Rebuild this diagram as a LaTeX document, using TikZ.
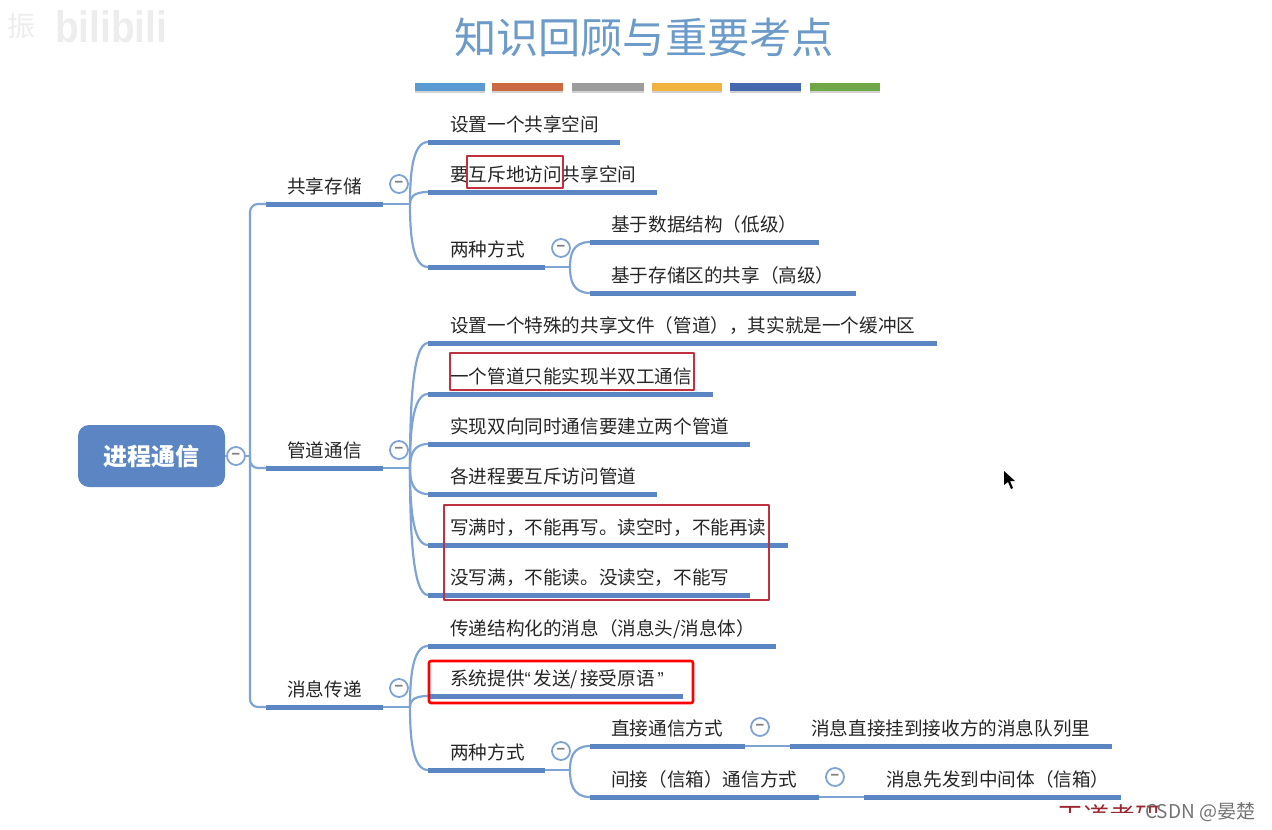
\documentclass[tikz,border=0pt]{standalone}
\usepackage{fontspec}
\setmainfont{Noto Sans CJK SC}
\newfontfamily\latinfont{Liberation Sans}
\usetikzlibrary{calc}
\definecolor{barblue}{HTML}{5B86C3}
\definecolor{linkblue}{HTML}{7FA3D3}
\definecolor{titleblue}{HTML}{6C9BC9}
\definecolor{boxred}{HTML}{C0303F}
\tikzset{
	topic/.style={anchor=base west, inner sep=0pt, font=\fontsize{18.6}{18.6}\selectfont, text=black!85},
	bar/.style={barblue, line width=5pt},
	link/.style={linkblue, line width=2.2pt},
	fold/.style={circle, draw=linkblue, fill=white, line width=1.8pt, minimum size=18pt, inner sep=0pt, font=\fontsize{14}{14}\selectfont\bfseries, text=gray},
	redbox/.style={boxred, line width=1.8pt}
}
\begin{document}
\begin{tikzpicture}[x=1pt, y=-1pt, line join=round, line cap=butt]
	\useasboundingbox (0,0) rectangle (1272,830);
	\clip (0,0) rectangle (1272,830);
	% #1 ten, #2 #3 dau cuoi gach, #4 y gach, #5 x chu, #6 chu
	\def\topicbar#1#2#3#4#5#6{
		\coordinate (#1L) at (#2,#4);
		\coordinate (#1R) at (#3,#4);
		\draw[bar] (#1L)--(#1R);
		\node[topic] (#1T) at (#5,#4-11) {#6};
	}
	% tieu de
	\node[font=\fontsize{42.2}{42.2}\selectfont, text=titleblue, inner sep=0pt] (title) at (644,38) {知识回顾与重要考点};
	\foreach \a/\b/\c in {415/485/5B9BD5,492/563/CB6A42,572/644/9C9C9C,652/722/F0B33F,730/801/4568AE,810/880/70A848}{
		\definecolor{stripe}{HTML}{\c}
		\fill[black!18] (\a,88) rectangle (\b,93);
		\fill[stripe] (\a,83) rectangle (\b,90.5);
	}
	% goc
	\node[fill=barblue, rounded corners=11pt, minimum width=147pt, minimum height=62pt, inner sep=0pt, text=white, font=\fontsize{24}{24}\selectfont\bfseries] (root) at (151.5,456) {\raisebox{-2pt}{进程通信}};
	% cap 1
	\topicbar{share}{266}{383}{204}{287}{共享存储}
	\topicbar{pipe}{266}{383}{468}{287}{管道通信}
	\topicbar{msg}{266}{383}{707}{287}{消息传递}
	% cap 2
	\topicbar{sa}{428}{620}{142}{450}{设置一个共享空间}
	\topicbar{sb}{428}{657}{192}{450}{要互斥地访问共享空间}
	\topicbar{sc}{428}{545}{267}{450}{两种方式}
	\topicbar{sd}{590}{819}{242}{611}{基于数据结构（低级）}
	\topicbar{se}{590}{856}{293}{611}{基于存储区的共享（高级）}
	\topicbar{pa}{428}{937}{343}{450}{设置一个特殊的共享文件（管道），其实就是一个缓冲区}
	\topicbar{pb}{428}{713}{394}{450}{一个管道只能实现半双工通信}
	\topicbar{pc}{428}{750}{444}{450}{实现双向同时通信要建立两个管道}
	\topicbar{pd}{428}{657}{494}{450}{各进程要互斥访问管道}
	\topicbar{pe}{428}{788}{545}{450}{写满时，不能再写。读空时，不能再读}
	\topicbar{pf}{428}{750}{595}{450}{没写满，不能读。没读空，不能写}
	\topicbar{ma}{428}{776}{646}{450}{传递结构化的消息（消息头/消息体）}
	\topicbar{mb}{428}{683}{696}{450}{系统提供{\latinfont “}\kern3pt 发送/\kern2pt 接受原语\kern3pt{\latinfont ”}}
	\topicbar{mc}{428}{545}{770}{450}{两种方式}
	\topicbar{md}{590}{745}{746}{611}{直接通信方式}
	\topicbar{me}{790}{1112}{746}{811}{消息直接挂到接收方的消息队列里}
	\topicbar{mf}{590}{819}{797}{611}{间接（信箱）通信方式}
	\topicbar{mg}{864}{1121}{797}{886}{消息先发到中间体（信箱）}
	% noi cap 1
	\coordinate (trunk) at (250,456);
	\draw[link] (root.east)--(trunk);
	\draw[link, rounded corners=8pt] (shareL)-|(trunk)|-(msgL);
	\draw[link, rounded corners=8pt] (trunk)|-(pipeL);
	% noi cap 2
	\foreach \p/\list in {share/{sa,sb,sc},pipe/{pa,pb,pc,pd,pe,pf},msg/{ma,mb,mc}}{
		\draw[link] (\p R)--++(27,0) coordinate (fork);
		\foreach \q in \list
			\draw[link] (fork) .. controls ($(fork)!.45!(fork|-\q L)$) and ($(fork|-\q L)+(2,0)$) .. (\q L);
	}
	\foreach \p/\list in {sc/{sd,se},mc/{md,mf}}{
		\draw[link] (\p R)--++(25,0) coordinate (fork);
		\foreach \q in \list
			\draw[link] (fork) .. controls ($(fork)!.45!(fork|-\q L)$) and ($(fork|-\q L)+(2,0)$) .. (\q L);
	}
	\draw[link] (mdR)--(meL);
	\draw[link] (mfR)--(mgL);
	% nut gap
	\foreach \x/\y/\n in {236/456/fa,399/184/fb,399/450/fc,399/688/fd,561/248/fe,561/751/ff,760/727/fg,835/777/fh}
		\node[fold] (\n) at (\x,\y) {−};
	% khung do
	\draw[redbox] (467,156) rectangle (563,188);
	\draw[redbox] (450,353) rectangle (694,390);
	\draw[redbox] (444,505) rectangle (769,600);
	\draw[red, line width=2.6pt, rounded corners=2pt] (429,661) rectangle (693,703);
	% con tro
	\fill[black] (1004,471)--(1004,485)--(1008,482)--(1011,489)--(1013,488)--(1010,481)--(1015,481)--cycle;
	% dau nuoc
	\node[anchor=base west, inner sep=0pt, text=black!7, font=\latinfont\fontsize{44}{44}\selectfont\bfseries, xscale=.88] (logo) at (55,42) {bilibili};
	\node[anchor=base west, inner sep=0pt, text=black!7, font=\fontsize{28}{28}\selectfont] (logob) at (7,36) {振};
	\node[anchor=base west, inner sep=0pt, text=boxred!80!black, font=\fontsize{26}{26}\selectfont] (wd) at (1057,826.5) {王道考研};
	\fill[white] (1040,813) rectangle (1272,830);
	\node[anchor=base west, inner sep=0pt, text=black!55, font=\fontsize{19}{19}\selectfont] (csdn) at (1145,818) {CSDN @晏楚};
\end{tikzpicture}
\end{document}
